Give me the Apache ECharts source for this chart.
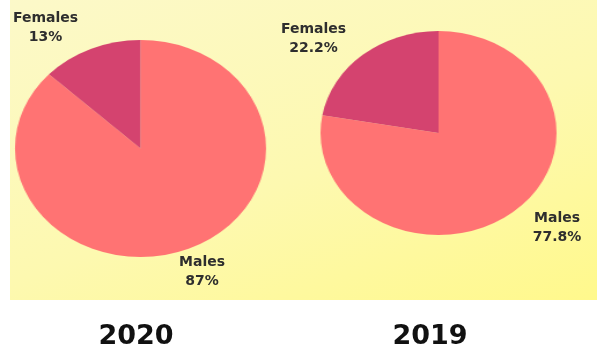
<!DOCTYPE html>
<html>
<head>
<meta charset="utf-8">
<script src="https://cdn.jsdelivr.net/npm/echarts@6/dist/echarts.min.js"></script>
<style>
  html, body { margin: 0; padding: 0; background: #ffffff; }
  #stage { position: relative; width: 604px; height: 352px; overflow: hidden; }
  #panel {
    position: absolute; left: 10px; top: 0; width: 587px; height: 300px;
    background: linear-gradient(160deg, #fcf9c9 0%, #fdf9b0 55%, #fff98c 100%);
  }
  /* the pies are drawn round, then widened into ellipses */
  #pies {
    position: absolute; left: 0; top: 0; width: 522px; height: 352px;
    transform: scaleX(1.157); transform-origin: 0 0;
  }
  #labels { position: absolute; left: 0; top: 0; width: 604px; height: 352px; }
</style>
</head>
<body>
<div id="stage">
  <div id="panel"></div>
  <div id="pies"></div>
  <div id="labels"></div>
</div>
<script>
// Share of staff by sex, per year
const categories = ['Males', 'Females'];
const values2020 = [87, 13];
const values2019 = [77.8, 22.2];
const years = ['2020', '2019'];

const sliceColors = ['#ff7373', '#d4436f'];

function pieData(values, colors) {
  return categories.map((name, i) => ({
    name: name,
    value: values[i],
    itemStyle: { color: colors[i] }
  }));
}

// layout (in unscaled page pixels)
const pieLayout = [
  { center: [140.5, 148.5], radius: 108.5 },
  { center: [438.5, 133], radius: 102 }
];
const stretch = 1.157;
const labelSpots = [
  [[202, 271.5], [45.5, 28]],
  [[557, 228], [313.5, 38.5]]
];
const yearSpots = [[136, 337], [430, 337]];

const seriesValues = [values2020, values2019];

const pies = echarts.init(document.getElementById('pies'), null, { renderer: 'canvas' });
pies.setOption({
  animation: false,
  backgroundColor: 'transparent',
  series: seriesValues.map((vals, s) => ({
    type: 'pie',
    startAngle: 90,
    clockwise: true,
    center: [pieLayout[s].center[0] / stretch, pieLayout[s].center[1]],
    radius: pieLayout[s].radius,
    label: { show: false },
    labelLine: { show: false },
    silent: true,
    data: pieData(vals, sliceColors)
  }))
});

// second, unstretched layer carries the slice labels and year captions
const clear = ['rgba(0,0,0,0)', 'rgba(0,0,0,0)'];
const labels = echarts.init(document.getElementById('labels'), null, { renderer: 'canvas' });
labels.setOption({
  animation: false,
  backgroundColor: 'transparent',
  series: seriesValues.map((vals, s) => ({
    type: 'pie',
    startAngle: 90,
    clockwise: true,
    center: pieLayout[s].center,
    radius: pieLayout[s].radius,
    silent: true,
    avoidLabelOverlap: false,
    labelLine: { show: false },
    label: {
      show: true,
      position: 'outside',
      formatter: '{b}\n{c}%',
      fontFamily: 'DejaVu Sans',
      fontWeight: 'bold',
      fontSize: 14,
      lineHeight: 19,
      color: '#2e2e2e',
      align: 'center'
    },
    labelLayout: function (p) {
      const spot = labelSpots[s][p.dataIndex];
      return { x: spot[0], y: spot[1], align: 'center', verticalAlign: 'middle' };
    },
    data: pieData(vals, clear)
  })),
  graphic: years.map((y, i) => ({
    type: 'text',
    x: yearSpots[i][0],
    y: yearSpots[i][1],
    style: {
      text: y,
      fontFamily: 'DejaVu Sans',
      fontWeight: 'bold',
      fontSize: 27,
      fill: '#111111',
      align: 'center',
      verticalAlign: 'middle'
    }
  }))
});
</script>
</body>
</html>
